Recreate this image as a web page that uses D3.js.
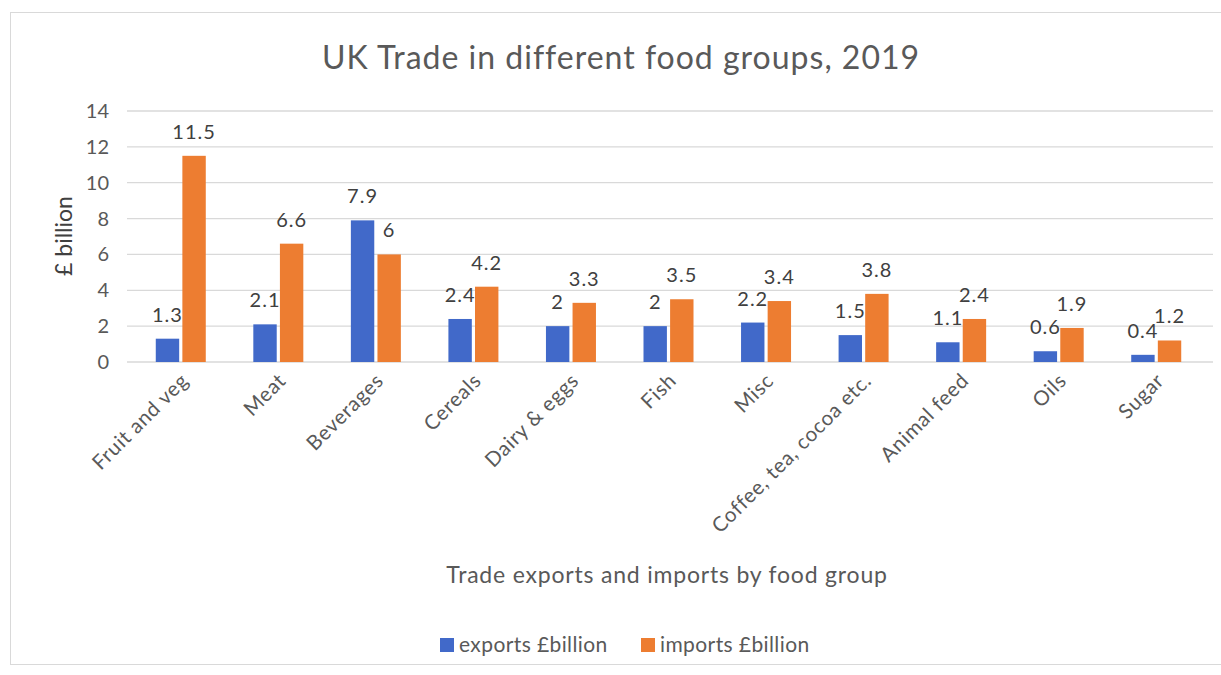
<!DOCTYPE html>
<html>
<head>
<meta charset="utf-8">
<script src="https://cdn.jsdelivr.net/npm/d3@7"></script>
<style>
  body { margin: 0; background: #fff; }
  text { font-family: Lato, "Open Sans", sans-serif; fill: #595959; }
</style>
</head>
<body>
<svg id="chart" width="1221" height="675"></svg>
<script>
// data
const categories = ["Fruit and veg", "Meat", "Beverages", "Cereals", "Dairy & eggs", "Fish", "Misc",
  "Coffee, tea, cocoa etc.", "Animal feed", "Oils", "Sugar"];
const exportsVals = [1.3, 2.1, 7.9, 2.4, 2, 2, 2.2, 1.5, 1.1, 0.6, 0.4];
const importsVals = [11.5, 6.6, 6, 4.2, 3.3, 3.5, 3.4, 3.8, 2.4, 1.9, 1.2];
const seriesNames = ["exports £billion", "imports £billion"];
const yTicks = [0, 2, 4, 6, 8, 10, 12, 14];

const colors = ["#4169c9", "#ed7d31"];

const svg = d3.select("#chart");

// frame
svg.append("rect")
  .attr("x", 10.5).attr("y", 12.5)
  .attr("width", 1220).attr("height", 652)
  .attr("fill", "#fff").attr("stroke", "#d9d9d9");

const plotLeft = 127, plotRight = 1213, plotTop = 111, plotBottom = 362;

const x = d3.scaleBand().domain(categories).range([132, 1205]);
const y = d3.scaleLinear().domain([0, 14]).range([plotBottom, plotTop]);
const inner = d3.scaleBand().domain([0, 1]).range([0, 50]).paddingInner(0.12);

// gridlines
svg.append("g")
  .selectAll("line")
  .data(yTicks)
  .enter().append("line")
  .attr("x1", plotLeft).attr("x2", plotRight)
  .attr("y1", d => y(d)).attr("y2", d => y(d))
  .attr("stroke", "#d9d9d9").attr("stroke-width", 1.3);

// y tick labels
svg.append("g")
  .selectAll("text")
  .data(yTicks)
  .enter().append("text")
  .attr("x", 109)
  .attr("y", d => y(d))
  .attr("dy", "0.35em")
  .style("text-anchor", "end")
  .style("font-size", "20px")
  .text(d => d);

// bars
const groups = svg.append("g")
  .selectAll("g")
  .data(categories)
  .enter().append("g")
  .attr("transform", d => `translate(${x(d) + x.bandwidth() / 2 - 25},0)`);

groups.each(function (cat, i) {
  const vals = [exportsVals[i], importsVals[i]];
  const g = d3.select(this);
  g.selectAll("rect")
    .data(vals)
    .enter().append("rect")
    .attr("x", (d, j) => inner(j))
    .attr("width", inner.bandwidth())
    .attr("y", d => y(d))
    .attr("height", d => plotBottom - y(d))
    .attr("fill", (d, j) => colors[j]);
  g.selectAll("text")
    .data(vals)
    .enter().append("text")
    .attr("x", (d, j) => inner(j) + inner.bandwidth() / 2)
    .attr("y", d => y(d) - 17)
    .style("text-anchor", "middle")
    .style("font-size", "20px")
    .style("letter-spacing", "1px")
    .style("fill", "#404040")
    .text(d => d);
});

// category labels
svg.append("g")
  .selectAll("text")
  .data(categories)
  .enter().append("text")
  .attr("transform", d => `translate(${x(d) + x.bandwidth() / 2 + 9},${plotBottom + 20}) rotate(-45)`)
  .style("text-anchor", "end")
  .style("font-size", "20.5px")
  .style("letter-spacing", "0.7px")
  .text(d => d);

// title
svg.append("text")
  .attr("x", 621).attr("y", 69)
  .style("text-anchor", "middle")
  .style("font-size", "32px")
  .style("letter-spacing", "1px")
  .text("UK Trade in different food groups, 2019");

// y axis title
svg.append("text")
  .attr("transform", "translate(72,236) rotate(-90)")
  .style("text-anchor", "middle")
  .style("font-size", "23px")
  .style("fill", "#404040")
  .text("£ billion");

// x axis title
svg.append("text")
  .attr("x", 667).attr("y", 583)
  .style("text-anchor", "middle")
  .style("font-size", "23px")
  .style("letter-spacing", "0.8px")
  .text("Trade exports and imports by food group");

// legend
const legend = svg.append("g")
  .selectAll("g")
  .data(seriesNames)
  .enter().append("g")
  .attr("transform", (d, i) => `translate(${440 + i * 201},645)`);
legend.append("rect")
  .attr("x", 0).attr("y", -7)
  .attr("width", 14).attr("height", 14)
  .attr("fill", (d, i) => colors[i]);
legend.append("text")
  .attr("x", 19).attr("y", 0)
  .attr("dy", "0.35em")
  .style("font-size", "21px")
  .style("letter-spacing", "0.4px")
  .text(d => d);
</script>
</body>
</html>
